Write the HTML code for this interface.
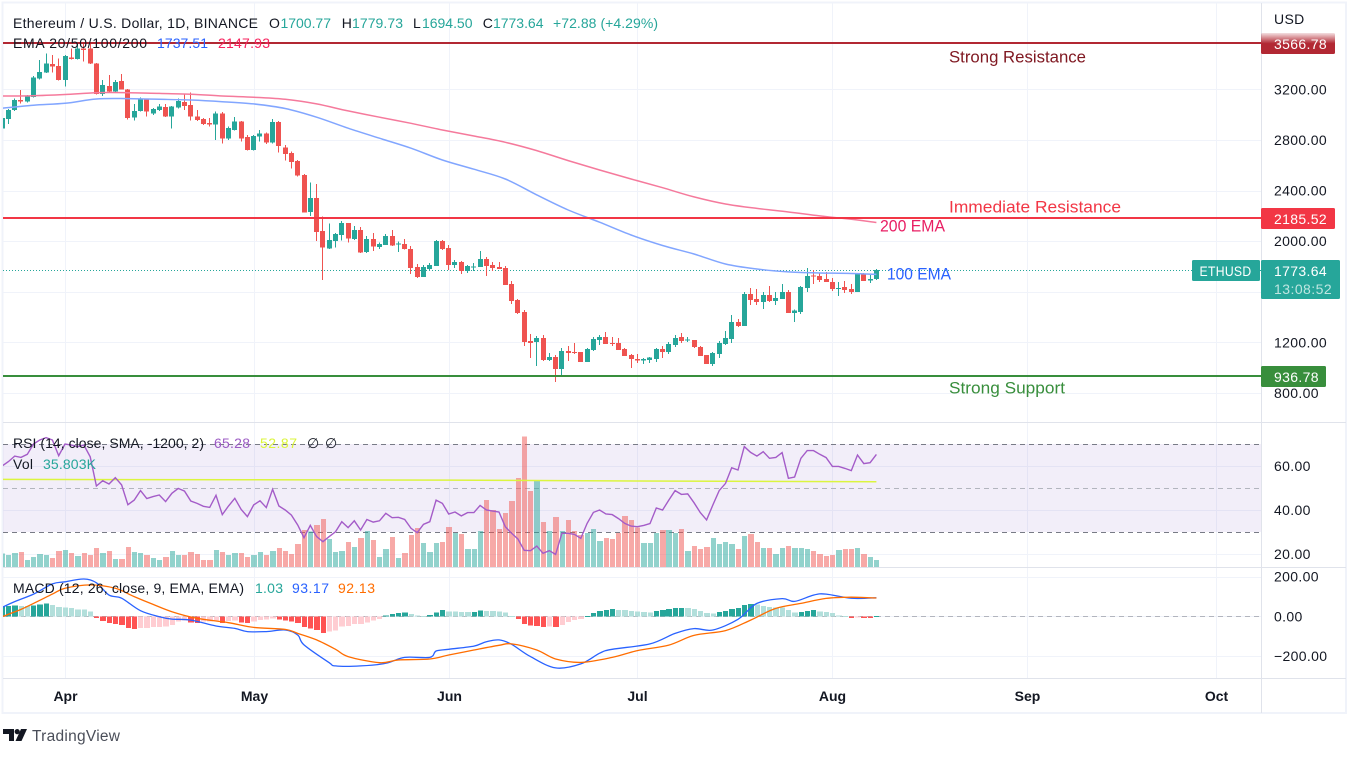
<!DOCTYPE html>
<html lang="en">
<head>
<meta charset="utf-8">
<title>ETHUSD chart</title>
<style>
html,body{margin:0;padding:0;background:#fff;width:1359px;height:757px;overflow:hidden}
svg{display:block;font-family:"Liberation Sans",Arial,sans-serif}
.lg{font-size:14px;fill:#131722}
.tk{font-size:14px;fill:#131722;letter-spacing:.35px}
.ann{font-size:16.5px}
.mo{font-size:14px;font-weight:bold;fill:#131722}
</style>
</head>
<body>
<svg id="chart" xmlns="http://www.w3.org/2000/svg" width="1359" height="757" viewBox="0 0 1359 757">
  <defs>
    <clipPath id="plot"><rect x="3" y="3" width="1258" height="710"/></clipPath>
    <linearGradient id="fade" x1="0" y1="0" x2="0" y2="1">
      <stop offset="0" stop-color="#b22833" stop-opacity=".15"/>
      <stop offset=".5" stop-color="#b22833" stop-opacity="1"/>
    </linearGradient>
  </defs>
  <rect x="2.5" y="2.5" width="1343.5" height="710.5" fill="#fff" stroke="#f0f3fa" stroke-width="2"/>
  <g id="grid" clip-path="url(#plot)"></g>
  <g id="rsiPane" clip-path="url(#plot)"></g>
  <g id="macdPane" clip-path="url(#plot)"></g>
  <g id="pricePane" clip-path="url(#plot)"></g>
  <g id="axes" stroke="#e0e3eb" stroke-width="1">
    <line x1="1261.5" y1="3" x2="1261.5" y2="713"/>
    <line x1="3" y1="422.5" x2="1346" y2="422.5"/>
    <line x1="3" y1="567.5" x2="1346" y2="567.5"/>
    <line x1="3" y1="678.5" x2="1346" y2="678.5"/>
  </g>
  <g id="ticks"></g>
  <text class="tk" x="1274" y="24">USD</text>
  <g id="tags"></g>

  <text class="ann" x="949" y="62.5" fill="#801922" textLength="137" lengthAdjust="spacingAndGlyphs">Strong Resistance</text>
  <text class="ann" x="949" y="212.5" fill="#f23645" textLength="172" lengthAdjust="spacingAndGlyphs">Immediate Resistance</text>
  <text class="ann" x="880" y="231.5" fill="#e91e63" textLength="65" lengthAdjust="spacingAndGlyphs">200 EMA</text>
  <text class="ann" x="887" y="279.5" fill="#2962ff" textLength="64" lengthAdjust="spacingAndGlyphs">100 EMA</text>
  <text class="ann" x="949" y="393.5" fill="#388e3c" textLength="116" lengthAdjust="spacingAndGlyphs">Strong Support</text>

  <g>
    <text class="lg" x="13" y="28" textLength="245">Ethereum / U.S. Dollar, 1D, BINANCE</text>
    <text class="lg" x="269" y="28">O</text>
    <text class="lg" x="280.5" y="28" style="fill:#26a69a" textLength="50.5">1700.77</text>
    <text class="lg" x="341.7" y="28">H</text>
    <text class="lg" x="352" y="28" style="fill:#26a69a" textLength="51">1779.73</text>
    <text class="lg" x="413" y="28">L</text>
    <text class="lg" x="422" y="28" style="fill:#26a69a" textLength="50.5">1694.50</text>
    <text class="lg" x="482.7" y="28">C</text>
    <text class="lg" x="493" y="28" style="fill:#26a69a" textLength="50.5">1773.64</text>
    <text class="lg" x="553" y="28" style="fill:#26a69a" textLength="105">+72.88 (+4.29%)</text>
    <text class="lg" x="13" y="48" textLength="134">EMA 20/50/100/200</text>
    <text class="lg" x="157" y="48" style="fill:#2962ff" textLength="51">1737.51</text>
    <text class="lg" x="218" y="48" style="fill:#f7245f" textLength="52">2147.93</text>
  </g>
  <g>
    <text class="lg" x="13" y="448" textLength="191">RSI (14, close, SMA, -1200, 2)</text>
    <text class="lg" x="214" y="448" style="fill:#9c5bc4" textLength="36">65.28</text>
    <text class="lg" x="260" y="448" style="fill:#dbf53a" textLength="37">52.87</text>
    <text class="lg" x="307" y="448">∅</text>
    <text class="lg" x="325" y="448">∅</text>
    <text class="lg" x="13" y="469" textLength="20">Vol</text>
    <text class="lg" x="43" y="469" style="fill:#26a69a" textLength="53">35.803K</text>
  </g>
  <g>
    <text class="lg" x="13" y="593" textLength="231">MACD (12, 26, close, 9, EMA, EMA)</text>
    <text class="lg" x="255" y="593" style="fill:#26a69a" textLength="28">1.03</text>
    <text class="lg" x="292" y="593" style="fill:#2962ff" textLength="37">93.17</text>
    <text class="lg" x="338" y="593" style="fill:#ff6d00" textLength="37">92.13</text>
  </g>

  <g>
    <path fill="#131722" d="M3 729h11v12h-5v-7h-6z"/>
    <circle cx="17.2" cy="731.6" r="2.6" fill="#131722"/>
    <path fill="#131722" d="M21 729h6l-5.5 12h-6z"/>
    <text x="32" y="741" font-size="15.5" fill="#4a4e59" textLength="88">TradingView</text>
  </g>
</svg>

<script>
const opens = [
2892,2966,3037,3116,3103,3138,3288,3333,3401,3385,
3275,3454,3441,3525,3525,3406,3164,3227,3185,3267,
3201,2979,3030,3122,3011,3037,3059,2985,3056,3101,
3077,2985,2966,2935,2921,3011,2811,2879,2945,2824,
2721,2827,2853,2779,2943,2742,2697,2634,2524,2231,
2342,2081,1944,2002,2049,2144,2017,2089,1915,2017,
1954,1970,2041,1975,1978,1938,1796,1717,1780,1804,
2002,1946,1812,1835,1764,1795,1796,1859,1812,1796,
1788,1662,1535,1440,1211,1203,1235,1061,1085,990,
1132,1124,1124,1045,1140,1219,1243,1195,1195,1148,
1100,1069,1056,1061,1069,1148,1124,1180,1243,1214,
1219,1164,1100,1029,1108,1187,1227,1361,1330,1583,
1543,1519,1575,1527,1543,1598,1432,1440,1630,1727,
1725,1701,1677,1625,1638,1622,1598,1741,1691,1700.77];
const highs = [
2990,3045,3130,3196,3155,3305,3433,3485,3472,3446,
3470,3525,3564,3570,3570,3410,3275,3314,3275,3322,
3205,3085,3135,3130,3052,3085,3085,3070,3130,3164,
3177,3037,2972,2974,3025,3020,2905,2980,2950,2840,
2840,2880,2860,2966,2950,2761,2708,2640,2530,2463,
2452,2194,2141,2065,2160,2144,2120,2112,2041,2065,
1988,2057,2089,1996,2017,1962,1820,1812,1828,2010,
2010,1970,1851,1843,1812,1828,1922,1875,1835,1835,
1804,1685,1543,1456,1266,1251,1258,1116,1100,1156,
1171,1195,1124,1156,1243,1258,1282,1243,1235,1156,
1108,1108,1077,1085,1156,1172,1203,1258,1274,1243,
1219,1172,1100,1124,1211,1290,1417,1385,1598,1630,
1622,1598,1646,1598,1662,1614,1461,1646,1788,1772,
1749,1757,1709,1677,1685,1662,1741,1749,1733,1779.73];
const lows = [
2880,2927,3030,3090,3095,3135,3280,3330,3333,3270,
3222,3435,3435,3420,3400,3160,3148,3175,3180,3198,
2964,2953,3025,2985,2998,3030,2983,2892,3050,3037,
2953,2950,2920,2906,2800,2774,2800,2875,2787,2718,
2718,2787,2769,2774,2700,2637,2574,2513,2226,2199,
2000,1693,1938,1949,2004,1988,2010,1905,1907,1922,
1938,1968,1962,1915,1935,1741,1709,1717,1764,1804,
1930,1772,1788,1741,1749,1764,1796,1725,1764,1780,
1654,1504,1425,1172,1077,1013,1053,1053,887,934,
1053,1108,1045,1045,1132,1180,1187,1172,1140,1092,
997,1037,1029,1037,1045,1077,1108,1164,1195,1203,
1156,1092,1029,1013,1077,1180,1195,1322,1330,1496,
1496,1464,1519,1496,1543,1432,1361,1425,1598,1662,
1677,1677,1606,1567,1590,1583,1598,1685,1670,1694.50];
const closes = [
2972,3037,3116,3103,3148,3296,3338,3406,3380,3275,
3464,3441,3525,3512,3406,3164,3235,3182,3259,3201,
2974,3030,3127,3024,3045,3064,2985,3064,3109,3069,
2985,2958,2927,2921,3011,2811,2895,2945,2811,2721,
2832,2853,2779,2943,2753,2690,2626,2518,2226,2342,
2073,1949,2010,2057,2144,2020,2089,1909,2017,1957,
1978,2041,1965,1980,1938,1788,1717,1796,1812,2002,
1938,1812,1835,1764,1804,1800,1859,1804,1788,1780,
1654,1527,1432,1203,1195,1235,1061,1085,990,1132,
1116,1116,1045,1148,1227,1243,1187,1187,1140,1092,
1069,1056,1069,1079,1148,1124,1187,1235,1211,1224,
1164,1092,1029,1116,1195,1235,1361,1330,1583,1535,
1519,1575,1527,1551,1598,1432,1453,1638,1725,1722,
1693,1677,1622,1630,1614,1598,1741,1685,1701,1773.64];
const volumes = [
70,61,72,77,36,51,66,61,46,82,87,72,56,72,61,97,72,82,41,41,
102,77,72,61,46,36,51,82,61,61,77,66,36,36,87,77,61,72,72,51,
61,77,61,82,97,82,66,118,189,182,215,245,143,77,82,128,102,148,184,138,
51,92,153,46,72,163,199,123,77,123,128,204,
174,169,92,92,184,342,291,194,276,337,455,666,388,439,230,184,255,184,240,184,
163,174,194,133,148,143,174,261,240,201,123,123,174,189,189,174,194,82,107,92,
102,148,118,128,118,92,158,169,128,97,97,66,97,107,97,97,92,82,66,56,
61,87,92,92,97,66,51,35.803];
const rsiValues = [
60,62,64.5,63.9,65.3,70,71.8,72.9,71.8,64.7,
70,69.5,68.8,69.5,64.2,50.9,53.3,51.8,54.7,51.4,
42.4,44.5,48.8,45.2,46.1,46.8,43.8,47.6,49.8,48.6,
44.1,43,41.7,41.2,46.7,37.9,41.8,45.3,40.3,37,
42.3,44.2,41.1,49.4,41.8,40,37.7,33.2,27.4,33,
27.9,25.6,27.9,30.1,34.7,32,35.1,30.9,35.7,34.5,
35.1,38.5,36.5,36.7,35.7,31.7,29.7,33.5,34.7,44.5,
43,38.2,39.1,37.3,38.8,38.8,42.1,40,39.5,39.1,
32.4,29.4,26.8,21.7,21.5,23.6,20.3,21.5,19.8,29.4,
29.4,28.9,27.1,33.9,38.9,40,38.2,37.9,36.1,33.9,
32.7,32.4,33,33.8,40.9,40,44.5,48.8,47.1,47.3,
43.3,38.8,35.5,42.3,48.8,52.1,59.2,58.2,68.8,66.2,
64.5,66.5,63.5,63.9,66.1,54.4,55,63.5,67,67,
65.3,63.8,59.8,59.8,58.9,57.9,65,61.1,61.5,65.28];
const rsiMaDays = [0,71,101,139];
const rsiMaValues = [53.9,53.6,53.2,52.87];
const macdHistogram = [
49,52,54,52,51,55,59,64,57,47,
44,42,35,34,24,-8,-24,-34,-39,-44,
-59,-64,-59,-58,-55,-54,-52,-44,-27,-22,
-32,-35,-27,-25,-22,-35,-24,-22,-32,-35,
-27,-18,-15,-10,-17,-22,-25,-35,-55,-62,
-69,-84,-77,-71,-52,-49,-40,-39,-30,-22,
-13,5,12,17,18,12,3,2,7,20,
32,25,24,22,21,22,29,27,26,25,
18,2,-13,-39,-47,-49,-54,-52,-55,-44,
-29,-18,-13,2,17,27,32,37,32,31,
27,24,22,20,27,32,37,42,43,42,
37,27,17,15,22,27,37,42,57,62,
60,52,47,45,44,32,20,22,27,32,
24,22,17,3,2,-8,-3,-8,-9,1.03];
const macdDays = [0,2,5,8,10,13,15,17,19,22,25,27,30,34,37,39,42,45,47,48,52,53,57,61,64,68,69,71,75,77,79,81,84,88,92,95,97,103,107,110,113,117,120,124,126,129,131,135,139];
const macdLine = [45,74,112,163,174,188,169,107,91,28,-2,-14,-19,-49,-61,-77,-77,-69,-94,-144,-234,-250,-250,-237,-207,-207,-175,-166,-150,-128,-119,-141,-203,-260,-240,-186,-166,-139,-86,-62,-69,-15,65,89,75,107,112,91,93.17];
const signalDays = [0,3,5,8,10,14,18,21,24,27,31,36,40,45,47,50,53,55,60,63,68,71,75,79,81,85,88,92,97,101,106,110,115,119,123,127,131,135,139];
const signalLine = [-2,35,65,112,141,158,141,99,60,23,-10,-32,-56,-66,-86,-119,-166,-203,-234,-220,-215,-195,-170,-146,-139,-170,-215,-232,-207,-173,-145,-96,-72,-19,40,65,90,96,92.13];
const emaDays = [0,5,10,15,20,25,30,35,40,45,50,55,60,65,70,75,80,85,90,95,100,105,110,115,120,125,130,135,139];
const ema200 = [3148,3150,3160,3174,3174,3168,3162,3148,3138,3122,3085,3030,2980,2932,2879,2832,2782,2716,2637,2563,2492,2423,2350,2294,2259,2231,2200,2173,2147.93];
const ema100 = [3051,3075,3090,3124,3127,3122,3116,3103,3085,3049,2980,2893,2814,2735,2642,2569,2492,2366,2247,2150,2049,1966,1899,1820,1780,1757,1749,1745,1737.51];
const priceTicks = [3200,2800,2400,2000,1600,1200,800];
const priceTickLabels = ['3200.00','2800.00','2400.00','2000.00','','1200.00','800.00'];
const rsiTicks = [60,40,20];
const rsiTickLabels = ['60.00','40.00','20.00'];
const macdTicks = [200,0,-200];
const macdTickLabels = ['200.00','0.00','−200.00'];
const monthDays = [10,40,71,101,132,163,193];
const monthLabels = ['Apr','May','Jun','Jul','Aug','Sep','Oct'];
const rsiBands = [70,50,30];
const lastPrice = 1773.64;

const NS = 'http://www.w3.org/2000/svg';
const xScale = d => 2.1 + 6.29 * d;
const yPrice = p => 393 - (p - 800) * 0.1265;
const yRsi = v => 444 + (70 - v) * 2.2;
const yMacd = v => 616.3 - v * 0.1985;
const hVol = v => v / 5.11;
const VOL_BASE = 567;
const barLeft = i => Math.round(xScale(i) + 0.3 - 2.65);
const barWidth = i => Math.round(xScale(i) + 0.3 + 2.65) - barLeft(i);

function mk(tag, attrs, parent) {
  const el = document.createElementNS(NS, tag);
  for (const k in attrs) el.setAttribute(k, attrs[k]);
  parent.appendChild(el);
  return el;
}
const gGrid = document.getElementById('grid');
const gRsi = document.getElementById('rsiPane');
const gMacd = document.getElementById('macdPane');
const gPrice = document.getElementById('pricePane');
const gTicks = document.getElementById('ticks');
const gTags = document.getElementById('tags');

// vertical month grid + x labels
monthDays.forEach((d, i) => {
  const x = Math.round(xScale(d)) + 0.5;
  const line = mk('line', {x1: x, x2: x, y1: 3, y2: 678, stroke: '#f0f3fa'}, gGrid);
  
  
  const t = mk('text', {x: x, y: 701, 'text-anchor': 'middle', class: 'mo'}, gTicks);
  
  
  t.textContent = monthLabels[i];
});

// horizontal grid + tick labels
function hTicks(values, labels, scale, name) {
  values.forEach((v, i) => {
    const y = Math.round(scale(v)) + 0.5;
    const line = mk('line', {x1: 3, x2: 1261, y1: y, y2: y, stroke: '#f0f3fa'}, gGrid);
    
    
    if (!labels[i]) return;
    const t = mk('text', {x: 1274, y: scale(v) + 5, class: 'tk'}, gTicks);
    
    
    t.textContent = labels[i];
  });
}
hTicks(priceTicks, priceTickLabels, yPrice, 'price');
hTicks(rsiTicks, rsiTickLabels, yRsi, 'rsi');
hTicks(macdTicks, macdTickLabels, yMacd, 'macd');

// RSI band
const band = mk('rect', {x: 3, width: 1258, y: yRsi(rsiBands[0]), height: yRsi(rsiBands[2]) - yRsi(rsiBands[0]), fill: '#7e57c2', 'fill-opacity': 0.1}, gRsi);


rsiBands.forEach((v, i) => {
  const y = Math.round(yRsi(v)) + 0.5;
  const l = mk('line', {x1: 3, x2: 1261, y1: y, y2: y, stroke: i === 1 ? '#b2b5be' : '#787b86', 'stroke-dasharray': '5 4'}, gRsi);
  
  
});

const isUp = i => closes[i] >= opens[i];

// volume bars
volumes.forEach((v, i) => {
  const h = hVol(v);
  const r = mk('rect', {x: barLeft(i), y: VOL_BASE - h, width: barWidth(i), height: h, fill: isUp(i) ? '#26a69a' : '#ef5350', 'fill-opacity': 0.5, 'shape-rendering': 'crispEdges'}, gRsi);
  
  
});

function linePoints(days, values, scale) {
  return days.map((d, i) => xScale(d).toFixed(1) + ',' + scale(values[i]).toFixed(1)).join(' ');
}
// smooth curve through the data points (Catmull-Rom)
function smoothPath(days, values, scale) {
  const p = days.map((d, i) => [xScale(d), scale(values[i])]);
  let s = 'M' + p[0][0].toFixed(1) + ' ' + p[0][1].toFixed(1);
  for (let i = 0; i < p.length - 1; i++) {
    const a = p[Math.max(0, i - 1)], b = p[i], c = p[i + 1], e = p[Math.min(p.length - 1, i + 2)];
    const c1x = b[0] + (c[0] - a[0]) / 6, c1y = b[1] + (c[1] - a[1]) / 6;
    const c2x = c[0] - (e[0] - b[0]) / 6, c2y = c[1] - (e[1] - b[1]) / 6;
    s += 'C' + c1x.toFixed(1) + ' ' + c1y.toFixed(1) + ' ' + c2x.toFixed(1) + ' ' + c2y.toFixed(1) + ' ' + c[0].toFixed(1) + ' ' + c[1].toFixed(1);
  }
  return s;
}
const rsiDays = rsiValues.map((_, i) => i);
const rsiMaEl = mk('polyline', {points: linePoints(rsiMaDays, rsiMaValues, yRsi), fill: 'none', stroke: '#dcf53f', 'stroke-width': 1.5}, gRsi);


const rsiEl = mk('polyline', {points: linePoints(rsiDays, rsiValues, yRsi), fill: 'none', stroke: '#a45cc8', 'stroke-width': 1.4}, gRsi);



// MACD
const zeroY = Math.round(yMacd(0)) + 0.5;
const zeroLine = mk('line', {x1: 3, x2: 1261, y1: zeroY, y2: zeroY, stroke: '#b2b5be', 'stroke-dasharray': '5 4'}, gMacd);


macdHistogram.forEach((v, i) => {
  const prev = i ? macdHistogram[i - 1] : v - 1;
  const fill = v >= 0 ? (v >= prev ? '#26a69a' : '#b2dfdb') : (v < prev ? '#ff5252' : '#ffcdd2');
  const y0 = yMacd(0), y1 = yMacd(v);
  const r = mk('rect', {x: barLeft(i), y: Math.min(y0, y1), width: barWidth(i), height: Math.max(1, Math.abs(y1 - y0)), fill: fill, 'shape-rendering': 'crispEdges'}, gMacd);
  
  
});
const macdEl = mk('path', {d: smoothPath(macdDays, macdLine, yMacd), fill: 'none', stroke: '#2962ff', 'stroke-width': 1.3}, gMacd);


const sigEl = mk('path', {d: smoothPath(signalDays, signalLine, yMacd), fill: 'none', stroke: '#ff6d00', 'stroke-width': 1.3}, gMacd);



// last price dotted line
const lastY = Math.round(yPrice(lastPrice)) + 0.5;
const lastLine = mk('line', {x1: 3, x2: 1261, y1: lastY, y2: lastY, stroke: '#26a69a', 'stroke-dasharray': '1 2'}, gPrice);



// candles
opens.forEach((o, i) => {
  const c = closes[i];
  const color = isUp(i) ? '#26a69a' : '#ef5350';
  const cx = Math.floor(xScale(i));
  const wick = mk('rect', {x: cx, y: yPrice(highs[i]), width: 1, height: yPrice(lows[i]) - yPrice(highs[i]), fill: color, 'shape-rendering': 'crispEdges'}, gPrice);
  
  
  const top = yPrice(Math.max(o, c));
  const body = mk('rect', {x: cx - 2, y: top, width: 5, height: Math.max(1, yPrice(Math.min(o, c)) - top), fill: color, 'shape-rendering': 'crispEdges'}, gPrice);
  
  
});

// EMAs
const e200 = mk('path', {d: smoothPath(emaDays, ema200, yPrice), fill: 'none', stroke: '#f57a9c', 'stroke-width': 1.5}, gPrice);


const e100 = mk('path', {d: smoothPath(emaDays, ema100, yPrice), fill: 'none', stroke: '#82a6ff', 'stroke-width': 1.5}, gPrice);



// horizontal levels + tags
function level(value, color, tagFill, w, name) {
  const y = Math.round(yPrice(value));
  const l = mk('rect', {x: 3, y: y - 1, width: 1258, height: 2, fill: color, 'shape-rendering': 'crispEdges'}, gPrice);
  
  
  const r = mk('rect', {x: 1261, y: y - 10, width: w, height: 21, rx: 1.5, fill: tagFill}, gTags);
  
  
  const t = mk('text', {x: 1274, y: y + 6, class: 'tk', style: 'fill:#fff'}, gTags);
  
  
  t.textContent = value.toFixed(2);
}
level(3566.78, '#b22833', 'url(#fade)', 74, 'strong-resistance');
level(2185.52, '#f23645', '#f23645', 74, 'immediate-resistance');
level(936.78, '#388e3c', '#388e3c', 65, 'strong-support');

// last price tags
const tagTop = Math.round(yPrice(lastPrice)) - 10;
const symTag = mk('rect', {x: 1192, y: tagTop, width: 68, height: 21, rx: 1.5, fill: '#26a69a'}, gTags);


const symText = mk('text', {x: 1199.5, y: tagTop + 16, class: 'tk', style: 'fill:#fff', textLength: 52, lengthAdjust: 'spacingAndGlyphs'}, gTags);


symText.textContent = 'ETHUSD';
const priceTag = mk('rect', {x: 1261, y: tagTop, width: 79, height: 39, rx: 1.5, fill: '#26a69a'}, gTags);


const priceText = mk('text', {x: 1274, y: tagTop + 16, class: 'tk', style: 'fill:#fff'}, gTags);


priceText.textContent = lastPrice.toFixed(2);
const countdown = mk('text', {x: 1274, y: tagTop + 34, class: 'tk', style: 'fill:#bfe6e1', textLength: 58}, gTags);


countdown.textContent = '13:08:52';
</script>
</body>
</html>
